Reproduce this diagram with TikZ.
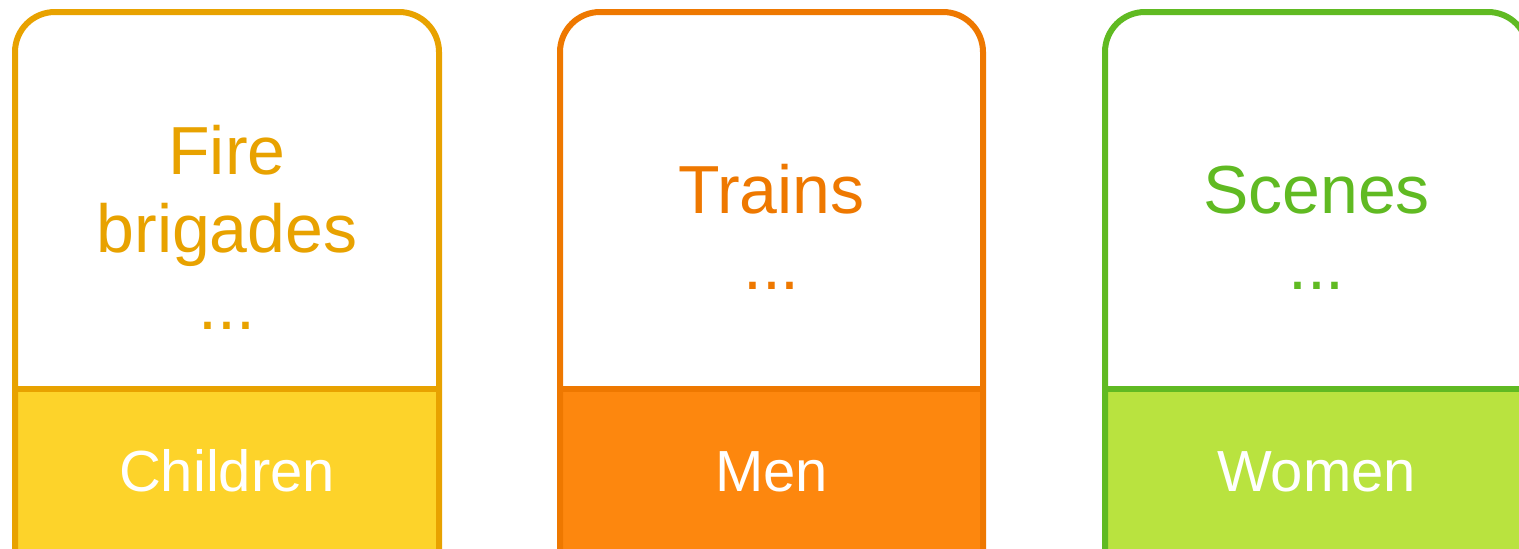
\documentclass[tikz,border=0pt]{standalone}
\usepackage{fontspec}
\setmainfont{Liberation Sans}
\definecolor{yS}{HTML}{E8A200}
\definecolor{yF}{HTML}{FDD32A}
\definecolor{oS}{HTML}{EE7800}
\definecolor{oF}{HTML}{FD870E}
\definecolor{gS}{HTML}{60BA22}
\definecolor{gF}{HTML}{B9E33F}
\tikzset{
  cardline/.style={line width=6pt, rounded corners=40pt},
  bigtext/.style={anchor=base, inner sep=0pt, font=\fontsize{68}{77}\selectfont},
  labtext/.style={anchor=base, inner sep=0pt, text=white, font=\fontsize{58}{66}\selectfont},
}
\begin{document}
\begin{tikzpicture}[x=1pt,y=-1pt]
\useasboundingbox (0,0) rectangle (1519,549);
\clip (0,0) rectangle (1519,549);
% card 1
\fill[yF] (15,389) rectangle (439,570);
\draw[yS, line width=6pt] (15,389) -- (439,389);
\draw[yS, cardline] (15,570) -- (15,12) -- (439,12) -- (439,570);
\node[bigtext, text=yS] (t1a) at (227,174) {Fire};
\node[bigtext, text=yS] (t1b) at (227,252) {brigades};
\node[bigtext, text=yS] (t1c) at (227,329) {...};
\node[labtext] (l1) at (227,491) {Children};
% card 2
\fill[oF] (560,389) rectangle (983,570);
\draw[oS, line width=6pt] (560,389) -- (983,389);
\draw[oS, cardline] (560,570) -- (560,12) -- (983,12) -- (983,570);
\node[bigtext, text=oS] (t2a) at (771.5,213) {Trains};
\node[bigtext, text=oS] (t2b) at (771.5,289) {...};
\node[labtext] (l2) at (771.5,491) {Men};
% card 3
\fill[gF] (1105,389) rectangle (1528,570);
\draw[gS, line width=6pt] (1105,389) -- (1528,389);
\draw[gS, cardline] (1105,570) -- (1105,12) -- (1528,12) -- (1528,570);
\node[bigtext, text=gS] (t3a) at (1316.5,213) {Scenes};
\node[bigtext, text=gS] (t3b) at (1316.5,289) {...};
\node[labtext] (l3) at (1316.5,491) {Women};
\end{tikzpicture}
\end{document}
